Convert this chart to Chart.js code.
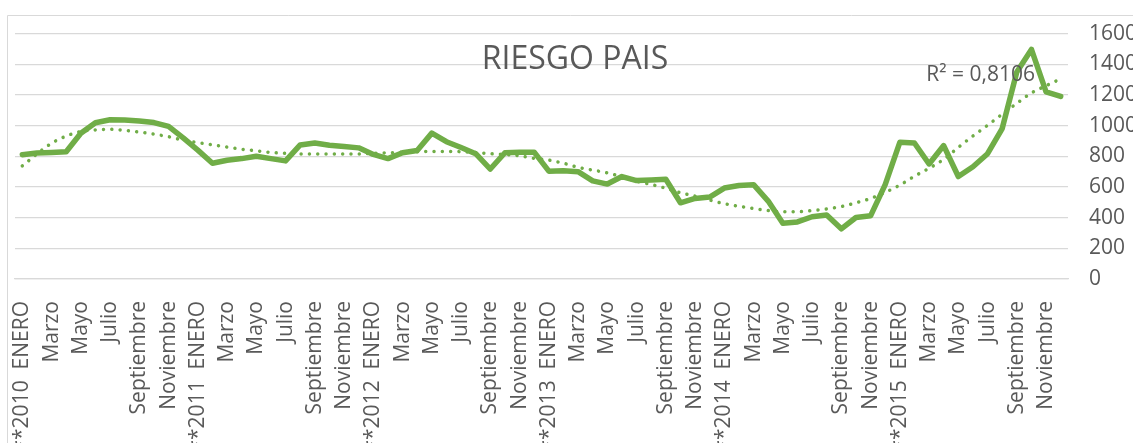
<!DOCTYPE html>
<html>
<head>
<meta charset="utf-8">
<script src="https://cdn.jsdelivr.net/npm/chart.js@4"></script>
<style>
  html, body { margin: 0; padding: 0; background: #fff; }
</style>
</head>
<body>
<canvas id="riesgo-chart" width="1133" height="443"></canvas>
<script>
const anios = [2010, 2011, 2012, 2013, 2014, 2015];
const meses = ["ENERO", "Febrero", "Marzo", "Abril", "Mayo", "Junio", "Julio",
  "Agosto", "Septiembre", "Octubre", "Noviembre", "Diciembre"];

// riesgo pais mensual, 2010 - 2015
const riesgo = [
  810, 822, 825, 830, 950, 1019, 1038, 1036, 1030, 1020, 995, 920,
  840, 755, 774, 785, 800, 785, 770, 874, 887, 872, 864, 855,
  812, 785, 823, 838, 951, 895, 857, 817, 717, 823, 827, 827,
  703, 705, 700, 640, 619, 668, 642, 646, 650, 497, 525, 534,
  593, 610, 615, 508, 363, 372, 406, 417, 327, 401, 412, 615,
  891, 887, 750, 870, 668, 732, 817, 981, 1350, 1497, 1220, 1190
];

// linea de tendencia (polinomica)
const tendencia = [
  738, 815, 885, 932, 962, 972, 976, 969, 958, 944, 928, 905,
  889, 875, 860, 846, 836, 825, 819, 815, 815, 815, 815, 815,
  820, 823, 826, 829, 832, 832, 830, 825, 817, 812, 803, 787,
  775, 755, 728, 710, 692, 666, 637, 616, 592, 563, 540, 515,
  491, 474, 459, 446, 439, 439, 446, 457, 472, 497, 525, 565,
  612, 670, 722, 780, 858, 932, 1002, 1075, 1145, 1213, 1260, 1305
];

const titulo = "RIESGO PAIS";
const r2Texto = "R² = 0,8106";

const etiquetas = [];
anios.forEach((a) => {
  meses.forEach((m, i) => {
    etiquetas.push(i === 0 ? `**${a}  ${m}` : m);
  });
});

const gris = "#595959";
const verde = "#70ad47";
const fuente = "'Open Sans', sans-serif";

// marco, titulo y etiqueta R2
const extras = {
  id: "extras",
  beforeDraw(chart) {
    const ctx = chart.ctx;
    ctx.save();
    ctx.strokeStyle = "#d9d9d9";
    ctx.lineWidth = 1;
    ctx.beginPath();
    ctx.moveTo(7.5, 443);
    ctx.lineTo(7.5, 15.5);
    ctx.lineTo(1133, 15.5);
    ctx.stroke();
    ctx.restore();
  },
  afterDraw(chart) {
    const { ctx, chartArea } = chart;
    ctx.save();
    ctx.fillStyle = gris;
    ctx.textBaseline = "middle";
    ctx.font = "32px " + fuente;
    ctx.textAlign = "center";
    ctx.fillText(titulo, 575, 60);
    ctx.font = "21px " + fuente;
    ctx.textAlign = "right";
    ctx.fillText(r2Texto, chartArea.right - 33, 75);
    ctx.restore();
  },
};

new Chart(document.getElementById("riesgo-chart").getContext("2d"), {
  type: "line",
  data: {
    labels: etiquetas,
    datasets: [
      {
        label: "Riesgo pais",
        data: riesgo,
        borderColor: verde,
        borderWidth: 5.5,
        borderJoinStyle: "round",
        borderCapStyle: "round",
        pointRadius: 0,
        tension: 0,
      },
      {
        label: "Tendencia",
        data: tendencia,
        borderColor: verde,
        borderWidth: 3.5,
        borderDash: [0.01, 8.3],
        borderCapStyle: "round",
        pointRadius: 0,
        cubicInterpolationMode: "monotone",
      },
    ],
  },
  options: {
    responsive: false,
    animation: false,
    layout: { padding: { left: 15, top: 30, right: 0, bottom: 0 } },
    plugins: {
      legend: { display: false },
      tooltip: { enabled: false },
    },
    scales: {
      x: {
        offset: true,
        grid: { display: false },
        border: { color: "#d9d9d9", width: 1.3 },
        ticks: {
          autoSkip: false,
          minRotation: 90,
          maxRotation: 90,
          padding: 14,
          color: gris,
          font: { family: fuente, size: 21 },
          callback: function (value, index) {
            return index % 2 === 0 ? this.getLabelForValue(value) : "";
          },
        },
        afterFit: (scale) => {
          scale.height = 164;
        },
      },
      y: {
        position: "right",
        min: 0,
        max: 1600,
        grid: { color: "#d9d9d9", lineWidth: 1.3, drawTicks: false },
        border: { display: false },
        ticks: {
          stepSize: 200,
          padding: 21,
          color: gris,
          font: { family: fuente, size: 21 },
          callback: (value) => String(value),
        },
        afterFit: (scale) => {
          scale.width = 65;
        },
      },
    },
  },
  plugins: [extras],
});
</script>
</body>
</html>
